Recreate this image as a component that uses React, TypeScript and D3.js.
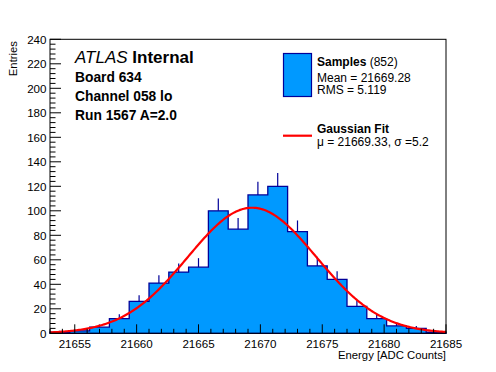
import React from "react";
import * as d3 from "d3";

const binEdgesStart = 21653;
const binWidth = 1.6;
const counts = [1, 2, 5, 12, 26, 41, 50, 54, 100, 85, 113, 120, 83, 55, 44, 22, 12, 6, 4, 1];
const xTicksMajor = [21655, 21660, 21665, 21670, 21675, 21680, 21685];
const yTicksMajor = [0, 20, 40, 60, 80, 100, 120, 140, 160, 180, 200, 220, 240];
const fitConst = 102.5;
const fitMean = 21669.33;
const fitSigma = 5.2;
const infoLines = ["Board 634", "Channel 058 lo", "Run 1567 A=2.0"];

const W = 496, H = 372;
const L = 50, R = 446, T = 39.3, B = 333.3;
const FONT = "'Liberation Sans', Arial, Helvetica, sans-serif";
const FILL = "#0099ff";
const LINE = "#000099";

export default function App() {
  const x = d3.scaleLinear().domain([21653, 21685]).range([L, R]);
  const y = d3.scaleLinear().domain([0, 240]).range([B, T]);

  // histogram step path
  let d = `M${x(binEdgesStart)},${y(0)}`;
  counts.forEach((c, i) => {
    const x0 = x(binEdgesStart + i * binWidth);
    const x1 = x(binEdgesStart + (i + 1) * binWidth);
    d += `L${x0},${y(c)}L${x1},${y(c)}`;
  });
  d += `L${x(binEdgesStart + counts.length * binWidth)},${y(0)}Z`;

  const fitPts = d3.range(0, 301).map((i) => {
    const xv = 21653 + (32 * i) / 300;
    return [xv, fitConst * Math.exp(-0.5 * ((xv - fitMean) / fitSigma) ** 2)] as [number, number];
  });
  const line = d3.line<[number, number]>().x((p) => x(p[0])).y((p) => y(p[1]));

  const xMinor = d3.range(21653, 21686, 1).filter((v) => v % 5 !== 0);
  const yMinor = d3.range(0, 241, 4).filter((v) => v % 20 !== 0);

  return (
    <svg width={W} height={H} style={{ position: "absolute", left: 0, top: 0, background: "#fff" }} fontFamily={FONT}>
      <rect x={0} y={0} width={W} height={H} fill="#fff" />
      <path d={d} fill={FILL} stroke="none" />
      {counts.map((c, i) => {
        const xc = x(binEdgesStart + (i + 0.5) * binWidth);
        return <line key={i} x1={xc} x2={xc} y1={y(c)} y2={y(c + Math.sqrt(c))} stroke={LINE} strokeWidth={1.2} />;
      })}
      <path d={d} fill="none" stroke={LINE} strokeWidth={1.3} />
      <path d={line(fitPts) || ""} fill="none" stroke="#ff0000" strokeWidth={2.2} />
      {/* frame */}
      <rect x={L} y={T} width={R - L} height={B - T} fill="none" stroke="#000" strokeWidth={1} />
      {/* x ticks */}
      {xTicksMajor.map((v) => (
        <g key={"xm" + v}>
          <line x1={x(v)} x2={x(v)} y1={B} y2={B - 9} stroke="#000" />
          <text x={x(v)} y={347.5} fontSize={11.6} textAnchor="middle">{v}</text>
        </g>
      ))}
      {xMinor.map((v) => (
        <line key={"xn" + v} x1={x(v)} x2={x(v)} y1={B} y2={B - 4.5} stroke="#000" />
      ))}
      {/* y ticks */}
      {yTicksMajor.map((v) => (
        <g key={"ym" + v}>
          <line x1={L} x2={L + 11} y1={y(v)} y2={y(v)} stroke="#000" />
          <text x={46.5} y={y(v) + 4.2} fontSize={11.6} textAnchor="end">{v}</text>
        </g>
      ))}
      {yMinor.map((v) => (
        <line key={"yn" + v} x1={L} x2={L + 5.5} y1={y(v)} y2={y(v)} stroke="#000" />
      ))}
      <text x={446} y={358.5} fontSize={11.3} textAnchor="end">Energy [ADC Counts]</text>
      <text transform="translate(17,41) rotate(-90)" fontSize={11.3} textAnchor="end">Entries</text>
      {/* ATLAS label */}
      <text x={75} y={63.3} fontSize={17}>
        <tspan fontStyle="italic">ATLAS</tspan>
        <tspan fontWeight="bold"> Internal</tspan>
      </text>
      {infoLines.map((t, i) => (
        <text key={t} x={75} y={81.5 + i * 19.3} fontSize={13.8} fontWeight="bold">{t}</text>
      ))}
      {/* legend */}
      <rect x={283.5} y={53.5} width={28} height={43} fill={FILL} stroke={LINE} strokeWidth={1.2} />
      <text x={317} y={66} fontSize={12}>
        <tspan fontWeight="bold">Samples</tspan>
        <tspan> (852)</tspan>
      </text>
      <text x={317} y={81.5} fontSize={12}>Mean = 21669.28</text>
      <text x={317} y={94} fontSize={12}>RMS = 5.119</text>
      <line x1={283} x2={312} y1={135.7} y2={135.7} stroke="#ff0000" strokeWidth={2.2} />
      <text x={317} y={133.3} fontSize={12} fontWeight="bold">Gaussian Fit</text>
      <text x={317} y={146} fontSize={12}>μ = 21669.33, σ =5.2</text>
    </svg>
  );
}
